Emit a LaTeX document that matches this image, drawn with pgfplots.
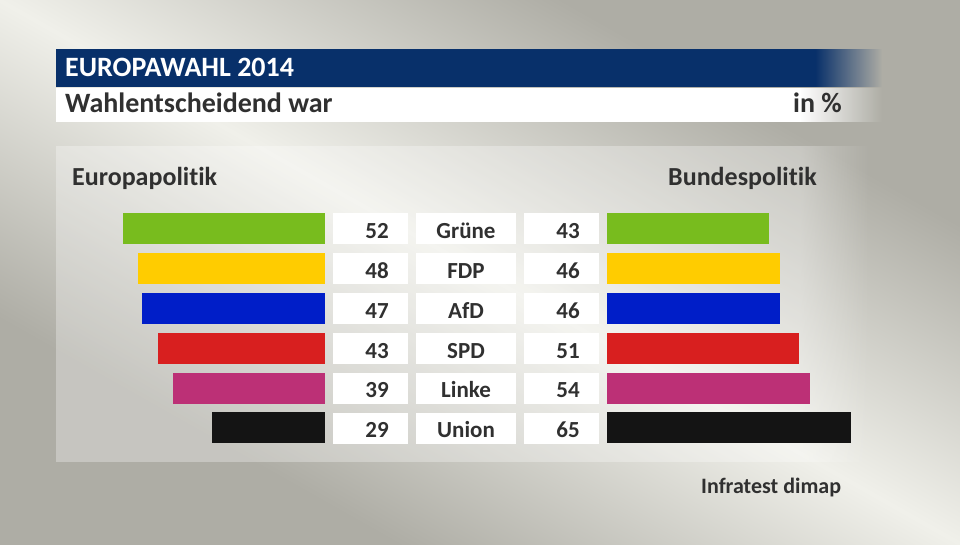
\documentclass[border=0pt]{standalone}
\usepackage{pgfplots}
\pgfplotsset{compat=1.18}
\usepackage{fontspec}
\setmainfont{Carlito}[Ligatures=NoCommon]
\usetikzlibrary{fadings}
\definecolor{bgdark}{HTML}{AEADA5}
\definecolor{bglight}{HTML}{F0F0EA}
\definecolor{hblue}{HTML}{08306A}
\definecolor{txt}{HTML}{303030}
\definecolor{cgruene}{HTML}{78BC1E}
\definecolor{cfdp}{HTML}{FFCC00}
\definecolor{cafd}{HTML}{001EC8}
\definecolor{cspd}{HTML}{D81F1F}
\definecolor{clinke}{HTML}{BC3076}
\definecolor{cunion}{HTML}{141414}
\pgfdeclareverticalshading{bgshade}{100bp}{color(0bp)=(bgdark); color(30bp)=(bgdark); color(50bp)=(bglight); color(70bp)=(bgdark); color(100bp)=(bgdark)}
\begin{document}
\begin{tikzpicture}[x=1pt,y=1pt]
\useasboundingbox (0,0) rectangle (960,544);
\begin{scope}
\clip (0,0) rectangle (960,544);
\shade[shading=bgshade, shading angle=-29.5] (0,0) rectangle (960,544);
\end{scope}
% header
\fill[hblue] (56,457) rectangle (815,495);
\fill[hblue, path fading=east] (815,457) rectangle (882,495);
\fill[white] (56,422) rectangle (800,456);
\fill[white, path fading=east] (800,422) rectangle (882,456);
% panel
\fill[white, opacity=0.3] (56,82) rectangle (800,398);
\fill[white, opacity=0.3, path fading=east] (800,82) rectangle (870,398);
% texts
\node[anchor=base west, inner sep=0, text=white, font=\fontsize{28}{28}\selectfont\bfseries] at (65,467) {EUROPAWAHL 2014};
\node[anchor=base west, inner sep=0, text=txt, font=\fontsize{28}{28}\selectfont\bfseries] at (65,431) {Wahlentscheidend war};
\node[anchor=base east, inner sep=0, text=txt, font=\fontsize{28}{28}\selectfont\bfseries] at (842,431) {in \%};
\node[anchor=base west, inner sep=0, text=txt, font=\fontsize{26}{26}\selectfont\bfseries] at (72,358) {Europapolitik};
\node[anchor=base west, inner sep=0, text=txt, font=\fontsize{26}{26}\selectfont\bfseries] at (668,358) {Bundespolitik};
\node[anchor=base west, inner sep=0, text=txt, font=\fontsize{22}{22}\selectfont\bfseries] at (701,51) {Infratest dimap};
% boxes and labels
\foreach \i/\e/\p/\b in {0/52/Grüne/43,1/48/FDP/46,2/47/AfD/46,3/43/SPD/51,4/39/Linke/54,5/29/Union/65}{
  \pgfmathsetmacro{\top}{331-39.9*\i}
  \pgfmathsetmacro{\bot}{\top-31}
  \pgfmathsetmacro{\base}{305.7-39.9*\i}
  \fill[white] (333,\bot) rectangle (408,\top);
  \fill[white] (416,\bot) rectangle (516,\top);
  \fill[white] (524,\bot) rectangle (599,\top);
  \node[anchor=base east, inner sep=0, text=txt, font=\fontsize{23}{23}\selectfont\bfseries] at (389,\base) {\e};
  \node[anchor=base, inner sep=0, text=txt, font=\fontsize{23}{23}\selectfont\bfseries] at (466,\base) {\p};
  \node[anchor=base east, inner sep=0, text=txt, font=\fontsize{23}{23}\selectfont\bfseries] at (580,\base) {\b};
}
% left bars: Europapolitik
\begin{axis}[at={(325pt,335.45pt)}, anchor=north east, scale only axis,
  width=213.95pt, height=239.4pt, xmin=0, xmax=55, x dir=reverse,
  ymin=-0.5, ymax=5.5, y dir=reverse, axis lines=none, clip=false,
  xbar, bar width=31pt, bar shift=0pt]
\addplot[fill=cgruene, draw=none] coordinates {(52,0)};
\addplot[fill=cfdp, draw=none] coordinates {(48,1)};
\addplot[fill=cafd, draw=none] coordinates {(47,2)};
\addplot[fill=cspd, draw=none] coordinates {(43,3)};
\addplot[fill=clinke, draw=none] coordinates {(39,4)};
\addplot[fill=cunion, draw=none] coordinates {(29,5)};
\end{axis}
% right bars: Bundespolitik
\begin{axis}[at={(607pt,335.45pt)}, anchor=north west, scale only axis,
  width=263.2pt, height=239.4pt, xmin=0, xmax=70,
  ymin=-0.5, ymax=5.5, y dir=reverse, axis lines=none, clip=false,
  xbar, bar width=31pt, bar shift=0pt]
\addplot[fill=cgruene, draw=none] coordinates {(43,0)};
\addplot[fill=cfdp, draw=none] coordinates {(46,1)};
\addplot[fill=cafd, draw=none] coordinates {(46,2)};
\addplot[fill=cspd, draw=none] coordinates {(51,3)};
\addplot[fill=clinke, draw=none] coordinates {(54,4)};
\addplot[fill=cunion, draw=none] coordinates {(65,5)};
\end{axis}
\end{tikzpicture}
\end{document}
